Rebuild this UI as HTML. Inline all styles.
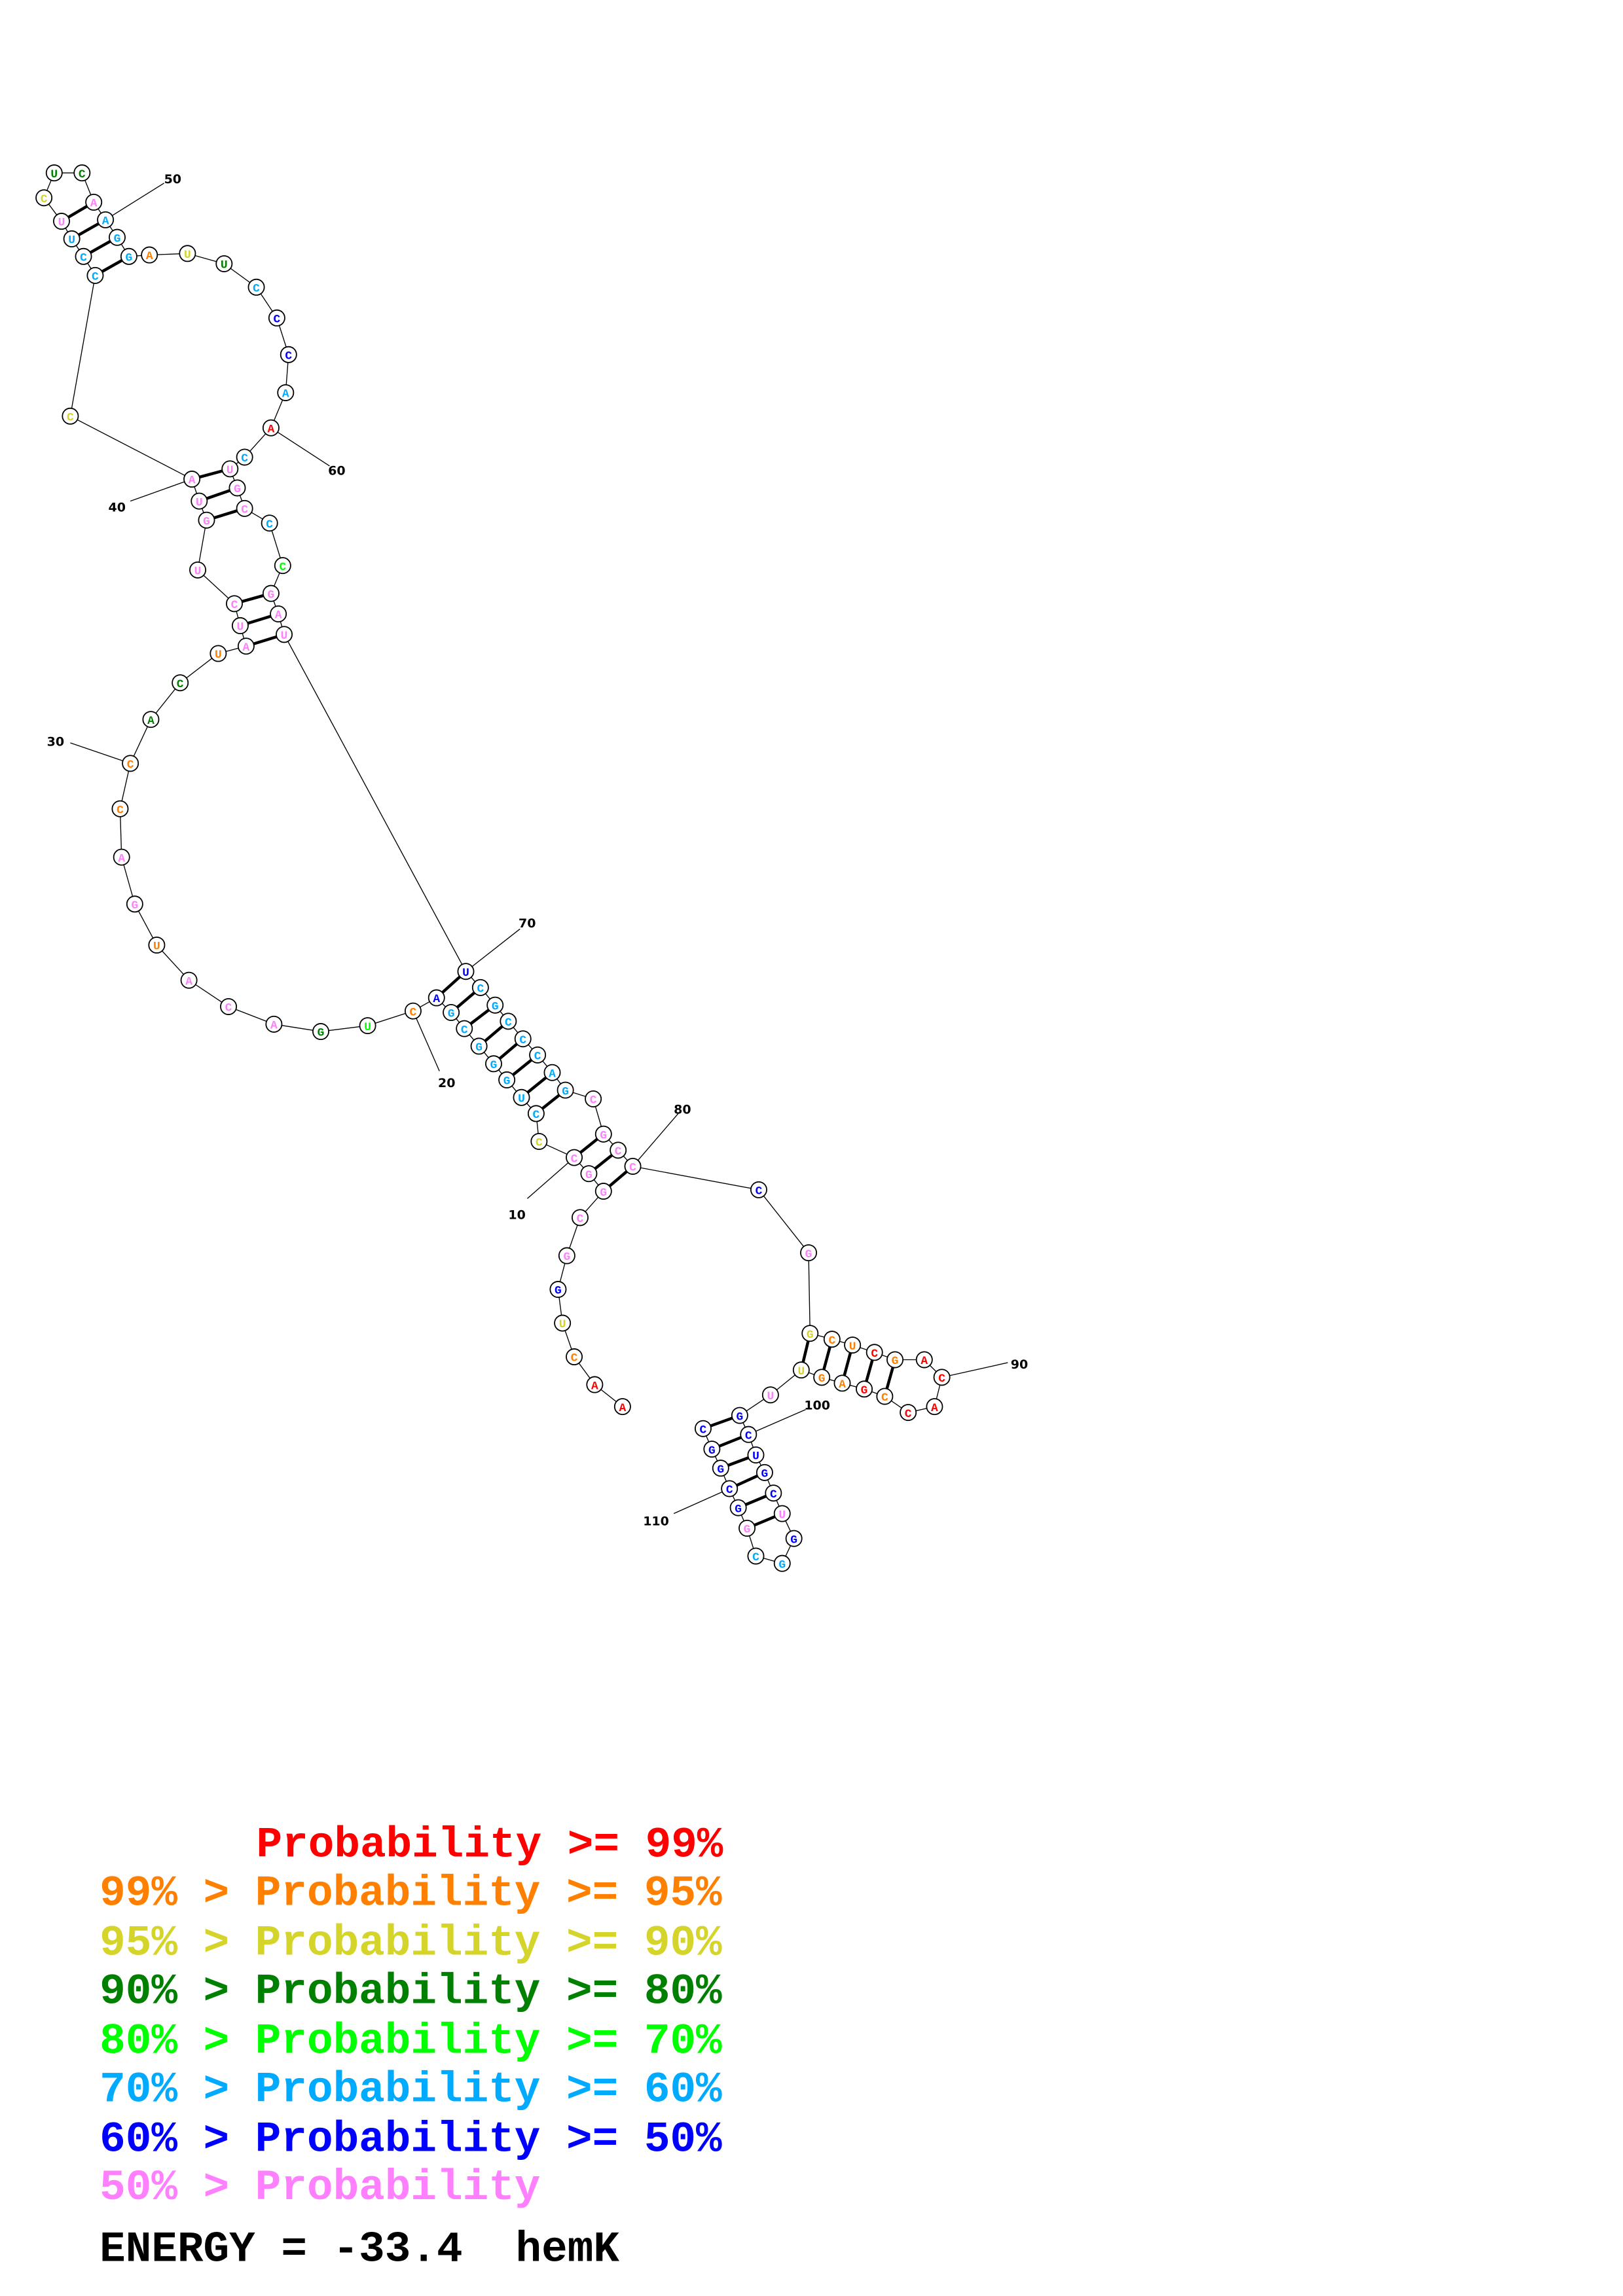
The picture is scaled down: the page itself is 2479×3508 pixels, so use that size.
<!DOCTYPE html>
<html><head><meta charset="utf-8"><style>
html,body{margin:0;padding:0;background:#fff;}
svg{display:block;}
.b{font-family:"Liberation Mono",monospace;font-weight:bold;font-size:8px;text-anchor:middle;}
.n{font-family:"DejaVu Sans","Liberation Sans",sans-serif;font-weight:bold;font-size:8.5px;fill:#000;}
.lg{font-family:"Liberation Mono",monospace;font-weight:bold;font-size:29.5px;white-space:pre;}
.lg text{white-space:pre;}
.R{fill:#ff0000}.O{fill:#ff8000}.Y{fill:#d4d42a}.D{fill:#008000}.L{fill:#00ff00}.C{fill:#00aaff}.B{fill:#0000ff}.P{fill:#ff80ff}
circle{fill:#fff;stroke:#000;stroke-width:0.8}
</style></head><body>
<svg width="2479" height="3508" viewBox="0 0 1108 1567" preserveAspectRatio="none" xmlns="http://www.w3.org/2000/svg">
<polyline fill="none" stroke="#000" stroke-width="0.6" points="425,960 406,945 392,926 384,903 381,880 387,857 396,831 412,813 402,801 392,790 368,779 366,760 356,749 346,737 337,726 327,714 317,702 308,691 298,681 282,690 251,700 219,704 187,699 156,687 129,669 107,645 92,617 83,585 82,552 89,521 103,491 123,466 149,446 168,441 164,427 160,412 135,389 141,355 136,342 131,327 48,284 65,188 57,175 49,163 42,151 30,135 37,118 56,118 64,138 72,150 80,162 88,175 102,174 128,173 153,180 175,196 189,217 197,242 195,268 185,292 167,312 157,320 162,333 167,347 184,357 193,386 185,405 190,419 194,433 318,663 328,674 338,686 347,697 357,709 367,720 377,732 386,744 405,750 412,774 422,785 432,796 518,812 552,855 553,910 568,914 582,918 597,923 611,928 631,928 643,940 638,960 620,964 604,953 590,948 575,944 561,940 547,935 526,952 505,966 511,979 516,993 522,1005 528,1019 534,1033 542,1050 534,1067 516,1062 510,1043 504,1029 498,1016 492,1002 486,989 480,975"/>
<g stroke="#000" stroke-width="2">
<line x1="42" y1="151" x2="64" y2="138"/><line x1="49" y1="163" x2="72" y2="150"/><line x1="57" y1="175" x2="80" y2="162"/><line x1="65" y1="188" x2="88" y2="175"/>
<line x1="131" y1="327" x2="157" y2="320"/><line x1="136" y1="342" x2="162" y2="333"/><line x1="141" y1="355" x2="167" y2="347"/>
<line x1="160" y1="412" x2="185" y2="405"/><line x1="164" y1="427" x2="190" y2="419"/><line x1="168" y1="441" x2="194" y2="433"/>
<line x1="298" y1="681" x2="318" y2="663"/><line x1="308" y1="691" x2="328" y2="674"/><line x1="317" y1="702" x2="338" y2="686"/><line x1="327" y1="714" x2="347" y2="697"/><line x1="337" y1="726" x2="357" y2="709"/><line x1="346" y1="737" x2="367" y2="720"/><line x1="356" y1="749" x2="377" y2="732"/><line x1="366" y1="760" x2="386" y2="744"/>
<line x1="392" y1="790" x2="412" y2="774"/><line x1="402" y1="801" x2="422" y2="785"/><line x1="412" y1="813" x2="432" y2="796"/>
<line x1="547" y1="935" x2="553" y2="910"/><line x1="561" y1="940" x2="568" y2="914"/><line x1="575" y1="944" x2="582" y2="918"/><line x1="590" y1="948" x2="597" y2="923"/><line x1="604" y1="953" x2="611" y2="928"/>
<line x1="480" y1="975" x2="505" y2="966"/><line x1="486" y1="989" x2="511" y2="979"/><line x1="492" y1="1002" x2="516" y2="993"/><line x1="498" y1="1016" x2="522" y2="1005"/><line x1="504" y1="1029" x2="528" y2="1019"/><line x1="510" y1="1043" x2="534" y2="1033"/>
</g>
<g stroke="#000" stroke-width="0.6">
<line x1="72" y1="150" x2="112" y2="125"/><line x1="185" y1="292" x2="225" y2="318"/><line x1="131" y1="327" x2="89" y2="342"/><line x1="89" y1="521" x2="48" y2="507"/><line x1="282" y1="690" x2="300" y2="731"/><line x1="318" y1="663" x2="355" y2="634"/><line x1="432" y1="796" x2="463" y2="760"/><line x1="392" y1="790" x2="360" y2="818"/><line x1="643" y1="940" x2="688" y2="930"/><line x1="511" y1="979" x2="550" y2="962"/><line x1="498" y1="1016" x2="460" y2="1033"/>
</g>
<g class="n">
<text x="112" y="125">50</text><text x="224" y="324">60</text><text x="74" y="349">40</text><text x="32" y="509">30</text><text x="299" y="742">20</text><text x="354" y="633">70</text><text x="460" y="760">80</text><text x="347" y="832">10</text><text x="690" y="934">90</text><text x="549" y="962">100</text><text x="439" y="1041">110</text>
</g>
<g>
<circle cx="425" cy="960" r="5.4"/><circle cx="406" cy="945" r="5.4"/><circle cx="392" cy="926" r="5.4"/><circle cx="384" cy="903" r="5.4"/><circle cx="381" cy="880" r="5.4"/><circle cx="387" cy="857" r="5.4"/><circle cx="396" cy="831" r="5.4"/><circle cx="412" cy="813" r="5.4"/><circle cx="402" cy="801" r="5.4"/><circle cx="392" cy="790" r="5.4"/><circle cx="368" cy="779" r="5.4"/><circle cx="366" cy="760" r="5.4"/><circle cx="356" cy="749" r="5.4"/><circle cx="346" cy="737" r="5.4"/><circle cx="337" cy="726" r="5.4"/><circle cx="327" cy="714" r="5.4"/><circle cx="317" cy="702" r="5.4"/><circle cx="308" cy="691" r="5.4"/><circle cx="298" cy="681" r="5.4"/><circle cx="282" cy="690" r="5.4"/><circle cx="251" cy="700" r="5.4"/><circle cx="219" cy="704" r="5.4"/><circle cx="187" cy="699" r="5.4"/><circle cx="156" cy="687" r="5.4"/><circle cx="129" cy="669" r="5.4"/><circle cx="107" cy="645" r="5.4"/><circle cx="92" cy="617" r="5.4"/><circle cx="83" cy="585" r="5.4"/><circle cx="82" cy="552" r="5.4"/><circle cx="89" cy="521" r="5.4"/><circle cx="103" cy="491" r="5.4"/><circle cx="123" cy="466" r="5.4"/><circle cx="149" cy="446" r="5.4"/><circle cx="168" cy="441" r="5.4"/><circle cx="164" cy="427" r="5.4"/><circle cx="160" cy="412" r="5.4"/><circle cx="135" cy="389" r="5.4"/><circle cx="141" cy="355" r="5.4"/><circle cx="136" cy="342" r="5.4"/><circle cx="131" cy="327" r="5.4"/><circle cx="48" cy="284" r="5.4"/><circle cx="65" cy="188" r="5.4"/><circle cx="57" cy="175" r="5.4"/><circle cx="49" cy="163" r="5.4"/><circle cx="42" cy="151" r="5.4"/><circle cx="30" cy="135" r="5.4"/><circle cx="37" cy="118" r="5.4"/><circle cx="56" cy="118" r="5.4"/><circle cx="64" cy="138" r="5.4"/><circle cx="72" cy="150" r="5.4"/><circle cx="80" cy="162" r="5.4"/><circle cx="88" cy="175" r="5.4"/><circle cx="102" cy="174" r="5.4"/><circle cx="128" cy="173" r="5.4"/><circle cx="153" cy="180" r="5.4"/><circle cx="175" cy="196" r="5.4"/><circle cx="189" cy="217" r="5.4"/><circle cx="197" cy="242" r="5.4"/><circle cx="195" cy="268" r="5.4"/><circle cx="185" cy="292" r="5.4"/><circle cx="167" cy="312" r="5.4"/><circle cx="157" cy="320" r="5.4"/><circle cx="162" cy="333" r="5.4"/><circle cx="167" cy="347" r="5.4"/><circle cx="184" cy="357" r="5.4"/><circle cx="193" cy="386" r="5.4"/><circle cx="185" cy="405" r="5.4"/><circle cx="190" cy="419" r="5.4"/><circle cx="194" cy="433" r="5.4"/><circle cx="318" cy="663" r="5.4"/><circle cx="328" cy="674" r="5.4"/><circle cx="338" cy="686" r="5.4"/><circle cx="347" cy="697" r="5.4"/><circle cx="357" cy="709" r="5.4"/><circle cx="367" cy="720" r="5.4"/><circle cx="377" cy="732" r="5.4"/><circle cx="386" cy="744" r="5.4"/><circle cx="405" cy="750" r="5.4"/><circle cx="412" cy="774" r="5.4"/><circle cx="422" cy="785" r="5.4"/><circle cx="432" cy="796" r="5.4"/><circle cx="518" cy="812" r="5.4"/><circle cx="552" cy="855" r="5.4"/><circle cx="553" cy="910" r="5.4"/><circle cx="568" cy="914" r="5.4"/><circle cx="582" cy="918" r="5.4"/><circle cx="597" cy="923" r="5.4"/><circle cx="611" cy="928" r="5.4"/><circle cx="631" cy="928" r="5.4"/><circle cx="643" cy="940" r="5.4"/><circle cx="638" cy="960" r="5.4"/><circle cx="620" cy="964" r="5.4"/><circle cx="604" cy="953" r="5.4"/><circle cx="590" cy="948" r="5.4"/><circle cx="575" cy="944" r="5.4"/><circle cx="561" cy="940" r="5.4"/><circle cx="547" cy="935" r="5.4"/><circle cx="526" cy="952" r="5.4"/><circle cx="505" cy="966" r="5.4"/><circle cx="511" cy="979" r="5.4"/><circle cx="516" cy="993" r="5.4"/><circle cx="522" cy="1005" r="5.4"/><circle cx="528" cy="1019" r="5.4"/><circle cx="534" cy="1033" r="5.4"/><circle cx="542" cy="1050" r="5.4"/><circle cx="534" cy="1067" r="5.4"/><circle cx="516" cy="1062" r="5.4"/><circle cx="510" cy="1043" r="5.4"/><circle cx="504" cy="1029" r="5.4"/><circle cx="498" cy="1016" r="5.4"/><circle cx="492" cy="1002" r="5.4"/><circle cx="486" cy="989" r="5.4"/><circle cx="480" cy="975" r="5.4"/>
</g>
<g class="b">
<text x="425" y="963" class="R">A</text><text x="406" y="948" class="R">A</text><text x="392" y="929" class="O">C</text><text x="384" y="906" class="Y">U</text><text x="381" y="883" class="B">G</text><text x="387" y="860" class="P">G</text><text x="396" y="834" class="P">C</text><text x="412" y="816" class="P">G</text><text x="402" y="804" class="P">G</text><text x="392" y="793" class="P">C</text><text x="368" y="782" class="Y">C</text><text x="366" y="763" class="C">C</text><text x="356" y="752" class="C">U</text><text x="346" y="740" class="C">G</text><text x="337" y="729" class="C">G</text><text x="327" y="717" class="C">G</text><text x="317" y="705" class="C">C</text><text x="308" y="694" class="C">G</text><text x="298" y="684" class="B">A</text><text x="282" y="693" class="O">C</text><text x="251" y="703" class="L">U</text><text x="219" y="707" class="D">G</text><text x="187" y="702" class="P">A</text><text x="156" y="690" class="P">C</text><text x="129" y="672" class="P">A</text><text x="107" y="648" class="O">U</text><text x="92" y="620" class="P">G</text><text x="83" y="588" class="P">A</text><text x="82" y="555" class="O">C</text><text x="89" y="524" class="O">C</text><text x="103" y="494" class="D">A</text><text x="123" y="469" class="D">C</text><text x="149" y="449" class="O">U</text><text x="168" y="444" class="P">A</text><text x="164" y="430" class="P">U</text><text x="160" y="415" class="P">C</text><text x="135" y="392" class="P">U</text><text x="141" y="358" class="P">G</text><text x="136" y="345" class="P">U</text><text x="131" y="330" class="P">A</text><text x="48" y="287" class="Y">C</text><text x="65" y="191" class="C">C</text><text x="57" y="178" class="C">C</text><text x="49" y="166" class="C">U</text><text x="42" y="154" class="P">U</text><text x="30" y="138" class="Y">C</text><text x="37" y="121" class="D">U</text><text x="56" y="121" class="D">C</text><text x="64" y="141" class="P">A</text><text x="72" y="153" class="C">A</text><text x="80" y="165" class="C">G</text><text x="88" y="178" class="C">G</text><text x="102" y="177" class="O">A</text><text x="128" y="176" class="Y">U</text><text x="153" y="183" class="D">U</text><text x="175" y="199" class="C">C</text><text x="189" y="220" class="B">C</text><text x="197" y="245" class="B">C</text><text x="195" y="271" class="C">A</text><text x="185" y="295" class="R">A</text><text x="167" y="315" class="C">C</text><text x="157" y="323" class="P">U</text><text x="162" y="336" class="P">G</text><text x="167" y="350" class="P">C</text><text x="184" y="360" class="C">C</text><text x="193" y="389" class="L">C</text><text x="185" y="408" class="P">G</text><text x="190" y="422" class="P">A</text><text x="194" y="436" class="P">U</text><text x="318" y="666" class="B">U</text><text x="328" y="677" class="C">C</text><text x="338" y="689" class="C">G</text><text x="347" y="700" class="C">C</text><text x="357" y="712" class="C">C</text><text x="367" y="723" class="C">C</text><text x="377" y="735" class="C">A</text><text x="386" y="747" class="C">G</text><text x="405" y="753" class="P">C</text><text x="412" y="777" class="P">G</text><text x="422" y="788" class="P">C</text><text x="432" y="799" class="P">C</text><text x="518" y="815" class="B">C</text><text x="552" y="858" class="P">G</text><text x="553" y="913" class="Y">G</text><text x="568" y="917" class="O">C</text><text x="582" y="921" class="O">U</text><text x="597" y="926" class="R">C</text><text x="611" y="931" class="O">G</text><text x="631" y="931" class="R">A</text><text x="643" y="943" class="R">C</text><text x="638" y="963" class="R">A</text><text x="620" y="967" class="R">C</text><text x="604" y="956" class="O">C</text><text x="590" y="951" class="R">G</text><text x="575" y="947" class="O">A</text><text x="561" y="943" class="O">G</text><text x="547" y="938" class="Y">U</text><text x="526" y="955" class="P">U</text><text x="505" y="969" class="B">G</text><text x="511" y="982" class="B">C</text><text x="516" y="996" class="B">U</text><text x="522" y="1008" class="B">G</text><text x="528" y="1022" class="B">C</text><text x="534" y="1036" class="P">U</text><text x="542" y="1053" class="B">G</text><text x="534" y="1070" class="C">G</text><text x="516" y="1065" class="C">C</text><text x="510" y="1046" class="P">G</text><text x="504" y="1032" class="B">G</text><text x="498" y="1019" class="B">C</text><text x="492" y="1005" class="B">G</text><text x="486" y="992" class="B">G</text><text x="480" y="978" class="B">C</text>
</g>
<g class="lg">
<text x="175" y="1267" class="R">Probability &gt;= 99%</text>
<text x="68" y="1300" class="O">99% &gt; Probability &gt;= 95%</text>
<text x="68" y="1334" class="Y">95% &gt; Probability &gt;= 90%</text>
<text x="68" y="1367" class="D">90% &gt; Probability &gt;= 80%</text>
<text x="68" y="1401" class="L">80% &gt; Probability &gt;= 70%</text>
<text x="68" y="1434" class="C">70% &gt; Probability &gt;= 60%</text>
<text x="68" y="1468" class="B">60% &gt; Probability &gt;= 50%</text>
<text x="68" y="1501" class="P">50% &gt; Probability</text>
<text x="68" y="1543" fill="#000">ENERGY = -33.4</text>
<text x="352" y="1543" fill="#000">hemK</text>
</g>
</svg>
</body></html>
